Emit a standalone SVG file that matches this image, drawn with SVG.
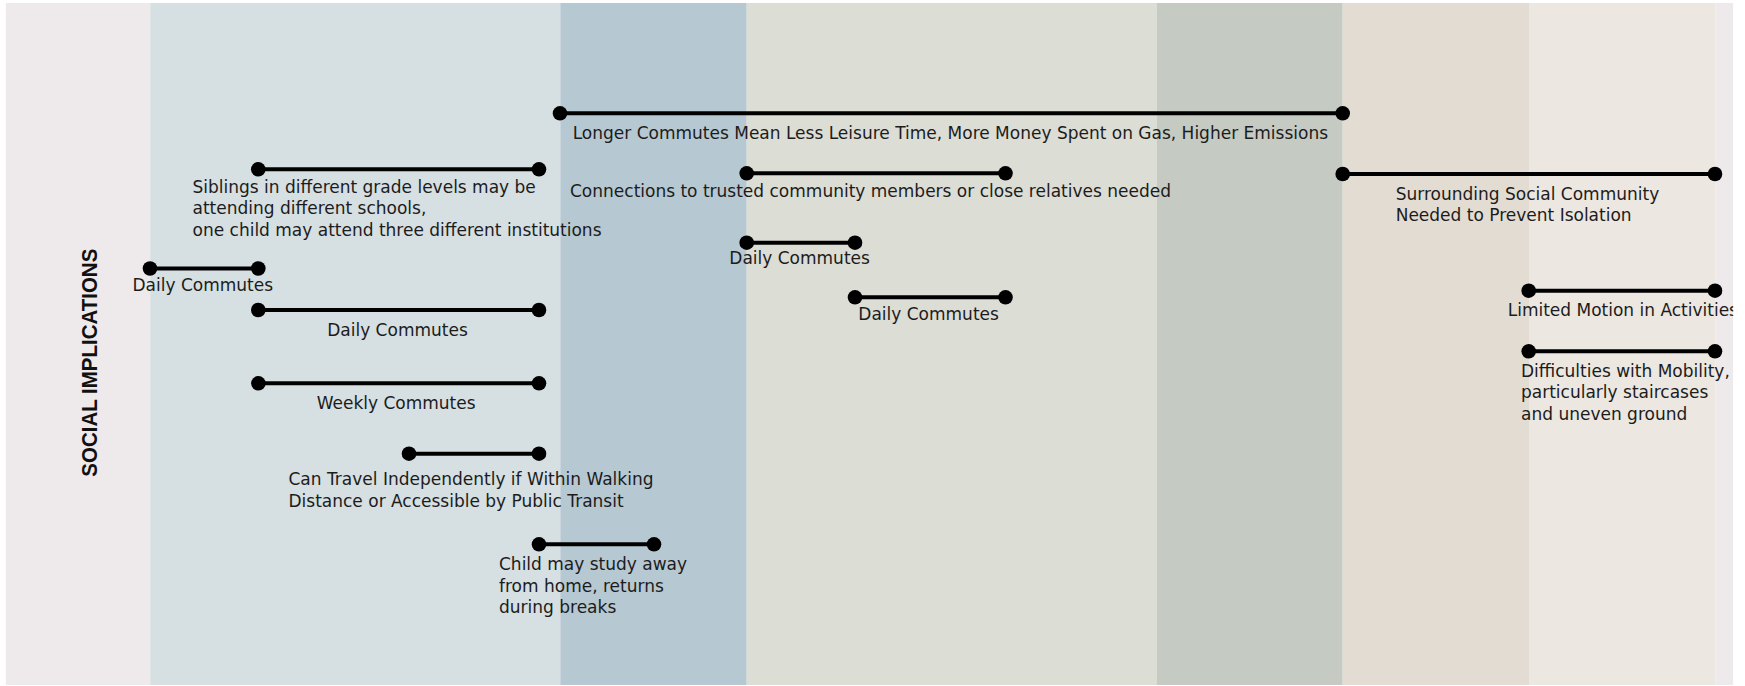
<svg xmlns="http://www.w3.org/2000/svg" width="1745" height="686" viewBox="0 0 1745 686">
  <style>
    .lbl { font-family: "DejaVu Sans", "Liberation Sans", sans-serif; font-size: 17px; fill: #1c1c1c; }
    .title { font-family: "Liberation Sans", Arial, sans-serif; font-size: 21.6px; font-weight: bold; fill: #111111; }
    .bar { stroke: #000000; stroke-width: 4; fill: none; marker-start: url(#dot); marker-end: url(#dot); }
  </style>
  <defs>
    <marker id="dot" viewBox="-8 -8 16 16" markerWidth="16" markerHeight="16" refX="0" refY="0" markerUnits="userSpaceOnUse" orient="0">
      <circle cx="0" cy="0" r="7.3" fill="#000000"/>
    </marker>
    <clipPath id="area">
      <rect x="5.6" y="3" width="1727.6" height="682"/>
    </clipPath>
  </defs>
  <rect x="0" y="0" width="1745" height="686" fill="#ffffff"/>
  <g id="bands" clip-path="url(#area)">
    <rect x="5.6" y="3" width="144.6" height="682" fill="#EEEAEB"/>
    <rect x="150.2" y="3" width="410.1" height="682" fill="#D6DFE2"/>
    <rect x="560.3" y="3" width="186.4" height="682" fill="#B6C8D2"/>
    <rect x="746.7" y="3" width="410.3" height="682" fill="#DCDDD5"/>
    <rect x="1157" y="3" width="185.7" height="682" fill="#C5CAC3"/>
    <rect x="1342.7" y="3" width="186.3" height="682" fill="#E3DCD2"/>
    <rect x="1529" y="3" width="186.7" height="682" fill="#ECE7E1"/>
    <rect x="1715.7" y="3" width="17.6" height="682" fill="#EEEAEB"/>
  </g>
  <g id="section-label">
    <text class="title" transform="translate(97.3,476.7) rotate(-90)" textLength="228" lengthAdjust="spacingAndGlyphs">SOCIAL IMPLICATIONS</text>
  </g>
  <g id="connectors">
    <line id="c-longer" class="bar" x1="560" y1="113.3" x2="1342.7" y2="113.3"/>
    <line id="c-siblings" class="bar" x1="258.3" y1="169.3" x2="539" y2="169.3"/>
    <line id="c-connections" class="bar" x1="746.7" y1="173.3" x2="1005.5" y2="173.3"/>
    <line id="c-surrounding" class="bar" x1="1342.7" y1="174" x2="1715" y2="174"/>
    <line id="c-daily1" class="bar" x1="150" y1="268.5" x2="258.3" y2="268.5"/>
    <line id="c-daily2" class="bar" x1="258.3" y1="310" x2="539" y2="310"/>
    <line id="c-daily3" class="bar" x1="746.7" y1="242.7" x2="855" y2="242.7"/>
    <line id="c-daily4" class="bar" x1="855" y1="297.3" x2="1005.5" y2="297.3"/>
    <line id="c-limited" class="bar" x1="1528.7" y1="290.7" x2="1715" y2="290.7"/>
    <line id="c-difficulties" class="bar" x1="1528.7" y1="351.3" x2="1715" y2="351.3"/>
    <line id="c-weekly" class="bar" x1="258.4" y1="383.3" x2="539" y2="383.3"/>
    <line id="c-travel" class="bar" x1="409" y1="453.7" x2="539" y2="453.7"/>
    <line id="c-child" class="bar" x1="539" y1="544.3" x2="654" y2="544.3"/>
  </g>
  <g id="node-longer">
    <text class="lbl" x="572.7" y="139.3">Longer Commutes Mean Less Leisure Time, More Money Spent on Gas, Higher Emissions</text>
  </g>
  <g id="node-siblings">
    <text class="lbl" x="192.5" y="192.7">Siblings in different grade levels may be</text>
    <text class="lbl" x="192.5" y="214.2">attending different schools,</text>
    <text class="lbl" x="192.5" y="235.7">one child may attend three different institutions</text>
  </g>
  <g id="node-connections">
    <text class="lbl" x="570" y="196.7">Connections to trusted community members or close relatives needed</text>
  </g>
  <g id="node-surrounding">
    <text class="lbl" x="1395.7" y="200">Surrounding Social Community</text>
    <text class="lbl" x="1395.7" y="221">Needed to Prevent Isolation</text>
  </g>
  <g id="node-daily1">
    <text class="lbl" x="132.5" y="291">Daily Commutes</text>
  </g>
  <g id="node-daily2">
    <text class="lbl" x="327.2" y="335.7">Daily Commutes</text>
  </g>
  <g id="node-daily3">
    <text class="lbl" x="729.3" y="264.3">Daily Commutes</text>
  </g>
  <g id="node-daily4">
    <text class="lbl" x="858.3" y="320">Daily Commutes</text>
  </g>
  <g id="node-limited" clip-path="url(#area)">
    <text class="lbl" x="1507.7" y="315.7">Limited Motion in Activities</text>
  </g>
  <g id="node-difficulties">
    <text class="lbl" x="1521" y="376.7">Difficulties with Mobility,</text>
    <text class="lbl" x="1521" y="398.3">particularly staircases</text>
    <text class="lbl" x="1521" y="420">and uneven ground</text>
  </g>
  <g id="node-weekly">
    <text class="lbl" x="316.7" y="409">Weekly Commutes</text>
  </g>
  <g id="node-travel">
    <text class="lbl" x="288.5" y="485">Can Travel Independently if Within Walking</text>
    <text class="lbl" x="288.5" y="506.7">Distance or Accessible by Public Transit</text>
  </g>
  <g id="node-child">
    <text class="lbl" x="499" y="570">Child may study away</text>
    <text class="lbl" x="499" y="591.7">from home, returns</text>
    <text class="lbl" x="499" y="613.3">during breaks</text>
  </g>
</svg>
